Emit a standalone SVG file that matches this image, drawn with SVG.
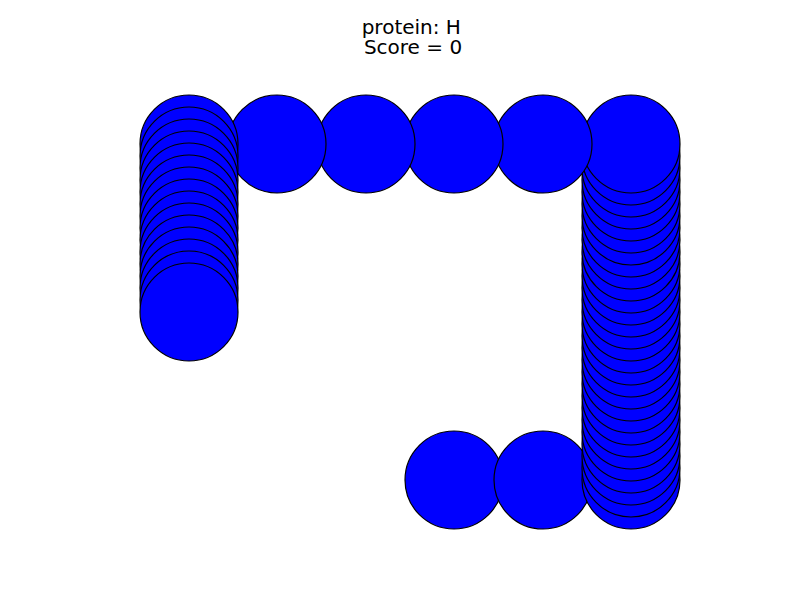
<svg xmlns="http://www.w3.org/2000/svg" width="800" height="600" viewBox="0 0 800 600">
<style>
.b{fill:#0000ff;stroke:#000;stroke-width:1.2}
.t{font-family:"DejaVu Sans",sans-serif;font-size:20px;fill:#000;text-anchor:middle}
</style>
<rect width="800" height="600" fill="#fff"/>
<g id="title">
<text class="t" x="411.3" y="34">protein: H</text>
<text class="t" x="413" y="54">Score = 0</text>
</g>
<g id="bottom-row">
<circle class="b" cx="454" cy="480" r="49"/>
<circle class="b" cx="543" cy="480" r="49"/>
</g>
<g id="right-column">
<circle class="b" cx="631" cy="480" r="49"/>
<circle class="b" cx="631" cy="468" r="49"/>
<circle class="b" cx="631" cy="456" r="49"/>
<circle class="b" cx="631" cy="444" r="49"/>
<circle class="b" cx="631" cy="432" r="49"/>
<circle class="b" cx="631" cy="420" r="49"/>
<circle class="b" cx="631" cy="408" r="49"/>
<circle class="b" cx="631" cy="396" r="49"/>
<circle class="b" cx="631" cy="384" r="49"/>
<circle class="b" cx="631" cy="372" r="49"/>
<circle class="b" cx="631" cy="360" r="49"/>
<circle class="b" cx="631" cy="348" r="49"/>
<circle class="b" cx="631" cy="336" r="49"/>
<circle class="b" cx="631" cy="324" r="49"/>
<circle class="b" cx="631" cy="312" r="49"/>
<circle class="b" cx="631" cy="300" r="49"/>
<circle class="b" cx="631" cy="288" r="49"/>
<circle class="b" cx="631" cy="276" r="49"/>
<circle class="b" cx="631" cy="264" r="49"/>
<circle class="b" cx="631" cy="252" r="49"/>
<circle class="b" cx="631" cy="240" r="49"/>
<circle class="b" cx="631" cy="228" r="49"/>
<circle class="b" cx="631" cy="216" r="49"/>
<circle class="b" cx="631" cy="204" r="49"/>
<circle class="b" cx="631" cy="192" r="49"/>
<circle class="b" cx="631" cy="180" r="49"/>
<circle class="b" cx="631" cy="168" r="49"/>
<circle class="b" cx="631" cy="156" r="49"/>
<circle class="b" cx="631" cy="144" r="49"/>
</g>
<g id="top-row">
<circle class="b" cx="543" cy="144" r="49"/>
<circle class="b" cx="454" cy="144" r="49"/>
<circle class="b" cx="366" cy="144" r="49"/>
<circle class="b" cx="277" cy="144" r="49"/>
</g>
<g id="left-column">
<circle class="b" cx="189" cy="144" r="49"/>
<circle class="b" cx="189" cy="156" r="49"/>
<circle class="b" cx="189" cy="168" r="49"/>
<circle class="b" cx="189" cy="180" r="49"/>
<circle class="b" cx="189" cy="192" r="49"/>
<circle class="b" cx="189" cy="204" r="49"/>
<circle class="b" cx="189" cy="216" r="49"/>
<circle class="b" cx="189" cy="228" r="49"/>
<circle class="b" cx="189" cy="240" r="49"/>
<circle class="b" cx="189" cy="252" r="49"/>
<circle class="b" cx="189" cy="264" r="49"/>
<circle class="b" cx="189" cy="276" r="49"/>
<circle class="b" cx="189" cy="288" r="49"/>
<circle class="b" cx="189" cy="300" r="49"/>
<circle class="b" cx="189" cy="312" r="49"/>
</g>
<g id="connectors"></g>
</svg>
